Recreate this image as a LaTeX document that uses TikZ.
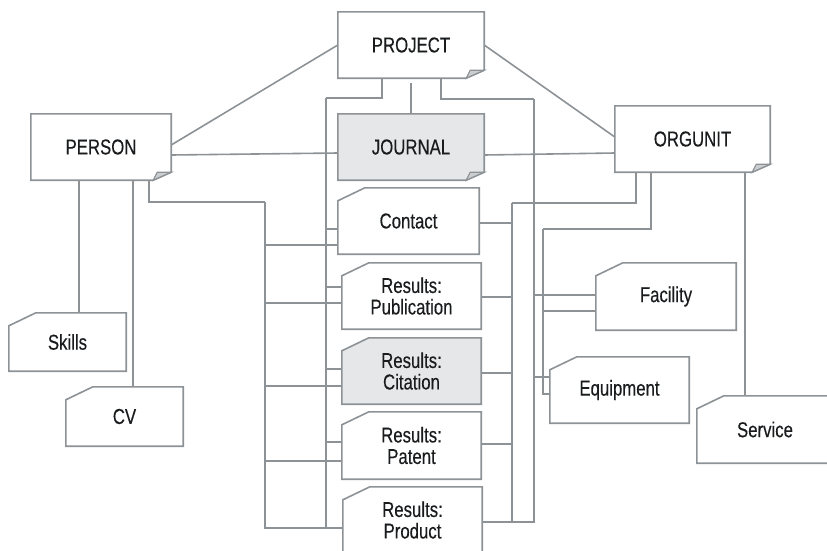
\documentclass[tikz,border=0pt]{standalone}
\usepackage{fontspec}
\usepackage{tikz}
\usetikzlibrary{positioning, calc}
\newfontfamily\diafont[FakeStretch=0.78, FakeBold=0.3]{Liberation Sans}
\definecolor{erLine}{RGB}{140, 146, 150}
\definecolor{erFill}{RGB}{230, 231, 232}
\definecolor{erText}{RGB}{25, 27, 29}
\pgfdeclarelayer{bg}
\pgfsetlayers{bg,main}

% Box outlines (drawn behind the text)
\newcommand{\chamfered}[2]{%
  \begin{pgfonlayer}{bg}
    \draw[boxline, fill=#2] ([xshift=27pt]#1.north west) -- (#1.north east)
      -- (#1.south east) -- (#1.south west) -- ([yshift=-13pt]#1.north west) -- cycle;
  \end{pgfonlayer}}
\newcommand{\dogeared}[2]{%
  \begin{pgfonlayer}{bg}
    \draw[boxline, fill=#2] (#1.north west) -- (#1.north east)
      -- ([yshift=8pt]#1.south east) -- ([xshift=-18pt]#1.south east)
      -- (#1.south west) -- cycle;
  \end{pgfonlayer}
  \draw[draw=erLine, line width=1.2pt, fill=erLine!45] ([xshift=-18pt]#1.south east)
    -- ([xshift=-14pt,yshift=8pt]#1.south east) -- ([yshift=8pt]#1.south east) -- cycle;}

\begin{document}
\begin{tikzpicture}[x=1pt, y=-1pt,
  box/.style={inner sep=0pt, text=erText, align=center,
    font=\diafont\fontsize{21.5}{23}\selectfont},
  twoline/.style={box, font=\diafont\fontsize{21.5}{21.5}\selectfont},
  boxline/.style={draw=erLine, line width=1.6pt},
  link/.style={draw=erLine, line width=1.6pt}]
  \useasboundingbox (0,0) rectangle (827,550);
  \clip (0,0) rectangle (827,550);

  % Main entities
  \node[box, minimum width=146pt, minimum height=66pt] (project) at (411,45) {PROJECT};
  \node[box, minimum width=140pt, minimum height=66pt] (person) at (101,147) {PERSON};
  \node[box, minimum width=146pt, minimum height=66pt] (journal) at (411,147) {JOURNAL};
  \node[box, minimum width=155pt, minimum height=66pt] (orgunit) at (692.5,139) {ORGUNIT};

  % Middle column
  \node[box, minimum width=141pt, minimum height=66pt] (contact) at (408.5,221) {Contact};
  \node[twoline, minimum width=139pt, minimum height=66pt] (pub) at (411.5,296) {Results:\\Publication};
  \node[twoline, minimum width=139pt, minimum height=66pt] (cit) at (411.5,371) {Results:\\Citation};
  \node[twoline, minimum width=139pt, minimum height=67pt] (pat) at (411.5,445.5) {Results:\\Patent};
  \node[twoline, minimum width=139pt, minimum height=66pt] (product) at (412.5,520) {Results:\\Product};

  % Side entities
  \node[box, minimum width=117pt, minimum height=58pt] (skills) at (67.5,342) {Skills};
  \node[box, minimum width=117pt, minimum height=59pt] (cv) at (124.5,416.5) {CV};
  \node[box, minimum width=140pt, minimum height=67pt] (facility) at (666,296.5) {Facility};
  \node[box, minimum width=139pt, minimum height=66pt] (equipment) at (619.5,390) {Equipment};
  \node[box, minimum width=136pt, minimum height=67pt] (service) at (765,429.5) {Service};

  % Outlines
  \dogeared{project}{white}
  \dogeared{person}{white}
  \dogeared{journal}{erFill}
  \dogeared{orgunit}{white}
  \foreach \n in {contact, pub, pat, product, skills, cv, facility, equipment, service}
    \chamfered{\n}{white};
  \chamfered{cit}{erFill}

  % Direct links
  \draw[link] (project.west) -- ([yshift=2pt]person.east);
  \draw[link] ([yshift=-8pt]person.east) -- ([yshift=-6pt]journal.west);
  \draw[link] (project.east) -- ([yshift=2pt]orgunit.west);
  \draw[link] ([yshift=-8pt]journal.east) -- ([yshift=-14pt]orgunit.west);
  \draw[link] ([yshift=-5pt]project.south) -- (journal.north);
  \draw[link] ([xshift=-22pt]person.south) -- ([xshift=11.5pt]skills.north);
  \draw[link] ([xshift=32pt]person.south) -- ([xshift=8.5pt]cv.north);
  \draw[link] ([xshift=52.5pt]orgunit.south) -- ([xshift=-20pt]service.north);

  % Buses
  \coordinate (perbus) at (265,202);
  \coordinate (projbusL) at (326,98);
  \coordinate (orgbusL) at (512,203);
  \coordinate (projbusR) at (534,99);
  \coordinate (orgbusR) at (543,229);
  \draw[link] ([xshift=48pt]person.south) |- (perbus);
  \draw[link] ([xshift=-29pt]project.south) |- (projbusL);
  \draw[link] ([xshift=-56.5pt]orgunit.south) |- (orgbusL);
  \draw[link] ([xshift=30pt]project.south) |- (projbusR);
  \draw[link] ([xshift=-41.5pt]orgunit.south) |- (orgbusR);

  % Branches
  \foreach \n/\dy in {contact/-24, pub/-7, cit/-15, pat/-15.5, product/-8}
    \draw[link] ([yshift=\dy pt]\n.west) -| (perbus);
  \foreach \n/\dy in {contact/-8, pub/9, cit/2, pat/3.5, product/-8}
    \draw[link] ([yshift=\dy pt]\n.west) -| (projbusL);
  \foreach \n/\dy in {contact/-2, pub/-1, cit/-2, pat/1.5, product/-2}
    \draw[link] ([yshift=\dy pt]\n.east) -| (orgbusL);
  \foreach \n/\dy in {product.east/-2, facility.west/1.5, equipment.west/13}
    \draw[link] ([yshift=\dy pt]\n) -| (projbusR);
  \foreach \n/\dy in {facility.west/-14.5, equipment.west/-4}
    \draw[link] ([yshift=\dy pt]\n) -| (orgbusR);
\end{tikzpicture}
\end{document}
